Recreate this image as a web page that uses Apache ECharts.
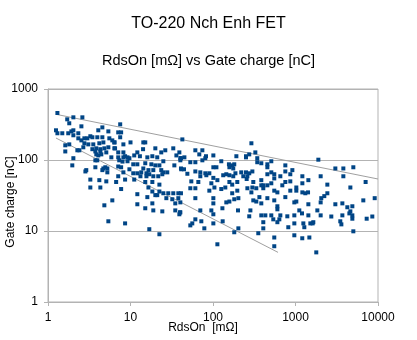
<!DOCTYPE html>
<html>
<head>
<meta charset="utf-8">
<script src="https://cdn.jsdelivr.net/npm/echarts/dist/echarts.min.js"></script>
<style>html,body{margin:0;padding:0;background:#fff}#c{width:417px;height:340px}</style>
</head>
<body>
<div id="c"></div>
<script>
const titleText = 'TO-220 Nch Enh FET';
const subtitleText = 'RdsOn [mΩ] vs Gate charge [nC]';
const xName = 'RdsOn  [mΩ]';
const yName = 'Gate charge [nC]';

// RdsOn [mΩ]
const rdsOn = [
1.30,2.03,2.61,1.71,1.81,2.54,4.56,1.25,1.30,1.49,1.76,1.92,2.03,2.33,4.07,5.39,2.03,2.33,2.54,2.76,3.00,3.26,3.45,3.96,4.56,5.54,6.02,6.37,2.76,3.08,3.54,4.19,4.69,1.62,1.81,2.68,3.45,3.85,4.31,4.82,5.39,6.37,1.62,2.27,2.40,3.75,4.31,5.09,3.85,4.07,4.43,5.86,2.03,3.75,3.96,1.97,3.75,4.69,4.95,5.24,4.56,5.24,2.91,2.84,3.26,4.19,5.09,3.26,4.31,6.02,4.82,5.39,
7.5,7.1,7.7,6.4,7.5,8.2,10.0,14.3,15.1,6.5,
7.1,8.2,12.1,14.2,20.0,26.4,33.0,39.1,7.1,8.2,
8.6,9.2,9.7,11.1,13.0,16.0,18.4,21.1,23.6,36.0,
40.2,7.3,8.0,9.2,10.8,12.1,15.1,17.9,20.0,22.4,
25.0,34.0,40.2,7.1,7.7,9.7,14.3,16.5,18.9,23.6,
41.3,8.2,10.8,12.1,13.5,15.6,16.9,25.0,27.9,7.1,
8.6,11.1,13.2,15.6,18.9,21.7,24.3,6.7,15.1,18.4,
22.4,16.5,7.7,18.4,22.4,25.0,28.7,33.0,38.0,12.1,
16.0,20.0,21.1,27.2,32.1,38.0,18.4,34.9,40.2,12.1,
15.1,18.9,24.3,34.9,39.1,40.2,8.6,16.9,22.4,
42.5,61.1,74.3,68.2,82.2,101,192,251,40.9,45.0,
53.1,61.1,74.3,80.7,126,156,171,181,40.9,44.5,
48.9,61.1,70.2,80.7,90.3,101,110,158,176,187,
220,70.2,83.0,101,133,145,158,176,233,54.6,
66.4,95.5,113,158,171,197,256,53.1,61.1,90.3,
104,126,141,171,197,40.9,61.1,101,145,158,
181,203,101,130,39.8,70.2,95.5,101,201,61.1,
56.1,53.1,72.2,101,131,78.5,181,203,113,
292,326,275,251,344,344,385,456,456,509,
753,916,251,275,300,261,456,509,553,553,
655,753,865,1211,385,308,407,385,456,509,
692,753,865,1023,1211,1432,261,300,335,407,
292,553,603,865,1023,1211,1315,1419,365,308,
456,553,753,968,1023,335,385,603,1432,603,
284,1112,1199,1432,385,431,509,655,796,968,
275,538,637,407,603,968,1245,1514,1644,407,
818,1279,354,553,968,1472,553,1786,1208,
1892,3041,3802,5024,2018,3802,7079,2432,4624,2432,
2234,2054,2018,3041,3698,4887,4249,6637,9120,1840,
4624,4498,2018,2716,3698,4887,4887,7290,8531,1614,
3491,3597,5024
];

// Gate charge [nC]
const gateCharge = [
459,399,399,374,329,298,288,262,238,238,238,253,262,238,262,253,223,202,189,202,202,216,209,209,209,202,189,177,172,166,166,172,177,161,166,151,142,146,142,146,151,146,132,137,137,132,132,128,120,116,120,109,106,99,99,84,79,76,79,76,72,67,72,69,53,52,50,41,41,27,23,13.7,
318,245,245,177,209,166,177,177,177,146,
128,128,128,142,146,137,146,128,109,109,
113,109,106,116,113,109,113,109,128,116,
106,99,95,96,87,87,90,87,84,84,
96,84,99,81,79,74,76,72,72,72,
74,67,65,65,67,65,63,67,67,59,
53,53,59,59,59,59,63,49,49,49,
45,41,39,36,36,34,34,34,34,33,
30,32,32,29,28,29,24.5,24.5,25.3,23.8,
20.9,19.5,18.9,19.5,17.2,18.3,12.8,10.6,9.0,
195,137,137,120,113,116,113,109,106,109,
93,93,99,106,96,87,84,87,76,74,
64,69,67,65,65,79,79,79,76,65,
67,59,61,56,61,63,61,59,59,50,
49,47,52,49,45,49,54,40,40,37,
41,39,41,34,37,34,29,29,25.3,26,
28,29,24.5,20.9,18.3,19.5,19.5,17.2,19.5,14.6,
12.8,12.0,13.7,12.8,13.7,10.9,9.6,10.9,6.5,
172,128,120,113,106,93,90,87,79,96,
84,72,67,65,69,59,63,67,63,55,
59,69,63,59,52,49,44,44,44,47,
44,49,50,41,47,52,40,41,40,40,
35,37,35,37,37,35,34,35,30,27,
29,27,30,25.3,26,26,24.5,22.3,23.8,20.2,
19.5,19.5,17.7,16.6,16.6,16.6,16.6,16.6,16.1,16.6,
16.1,14.6,14.6,13.3,13.3,12.8,12.8,12.8,13.3,10.9,
11.3,11.3,9.3,8.1,8.7,8.1,6.1,5.0,7.9,
101,76,76,79,59,59,49,45,41,34,
31,29,25.3,23.8,24.5,22.3,21.6,27,29,19.5,
18.9,17.7,16.6,16.0,16.6,16.6,14.9,14.9,16.0,12.8,
13.7,12.4,9.9
];

// Trend lines [RdsOn, Gate charge]
const upperTrend = [[1.25, 440], [10000, 54]];
const lowerTrend = [[1.25, 204], [614, 5]];

const xTicks = [1, 10, 100, 1000, 10000];
const yTicks = [1, 10, 100, 1000];

const points = rdsOn.map((x, i) => [x, gateCharge[i]]);

const font = "'Liberation Sans', Arial, sans-serif";
const gridColor = '#b3b3b3';
const plain = v => String(Math.round(v));

const chart = echarts.init(document.getElementById('c'), null, {renderer: 'canvas'});
chart.setOption({
  animation: false,
  backgroundColor: '#fff',
  title: [
    {text: titleText, left: 'center', top: 16, padding: 0,
     textStyle: {fontFamily: font, fontSize: 16, fontWeight: 'normal', color: '#000'}},
    {text: subtitleText, left: 'center', top: 53, padding: 0,
     textStyle: {fontFamily: font, fontSize: 14.5, fontWeight: 'normal', color: '#000'}}
  ],
  grid: {left: 48, right: 39, top: 89, bottom: 38, show: true, borderColor: gridColor, borderWidth: 1,
         containLabel: false, outerBoundsMode: 'none'},
  xAxis: {
    type: 'log', logBase: 10, min: xTicks[0], max: xTicks[xTicks.length - 1],
    name: xName, nameLocation: 'middle', nameGap: 20, nameMoveOverlap: false,
    nameTextStyle: {fontFamily: font, fontSize: 12, color: '#000', padding: [0, 20, 0, 0]},
    axisLine: {show: true, lineStyle: {color: gridColor}},
    axisTick: {show: true, inside: false, length: 4, lineStyle: {color: gridColor}},
    minorTick: {show: false},
    axisLabel: {fontFamily: font, fontSize: 12, color: '#000', margin: 10, formatter: plain},
    splitLine: {show: false}
  },
  yAxis: {
    type: 'log', logBase: 10, min: yTicks[0], max: yTicks[yTicks.length - 1],
    name: yName, nameLocation: 'middle', nameGap: 31, nameRotate: 90, nameMoveOverlap: false,
    nameTextStyle: {fontFamily: font, fontSize: 12, color: '#000', padding: [0, 13, 0, 0]},
    axisLine: {show: true, lineStyle: {color: gridColor}},
    axisTick: {show: true, inside: false, length: 4, lineStyle: {color: gridColor}},
    axisLabel: {fontFamily: font, fontSize: 12, color: '#000', margin: 10, formatter: plain},
    splitLine: {show: true, lineStyle: {color: gridColor, width: 1}}
  },
  series: [
    {type: 'line', data: upperTrend, showSymbol: false, symbol: 'none', silent: true,
     lineStyle: {color: '#a0a0a0', width: 1}, z: 1},
    {type: 'line', data: lowerTrend, showSymbol: false, symbol: 'none', silent: true,
     lineStyle: {color: '#a0a0a0', width: 1}, z: 1},
    {type: 'scatter', data: points, symbol: 'rect', symbolSize: 4,
     itemStyle: {color: '#004586', opacity: 1}, z: 2}
  ]
});
</script>
</body>
</html>
